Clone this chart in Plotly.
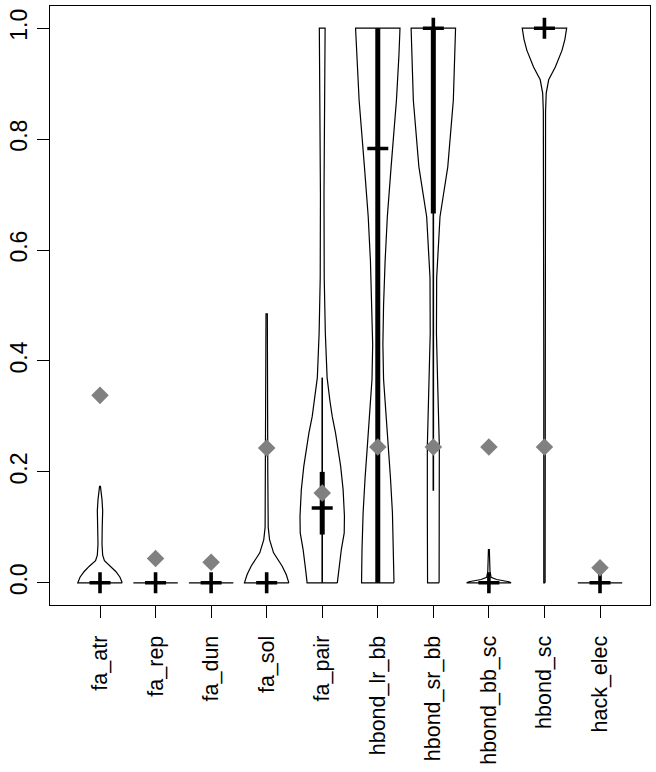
import plotly.graph_objects as go

categories = ["fa_atr", "fa_rep", "fa_dun", "fa_sol", "fa_pair",
              "hbond_lr_bb", "hbond_sr_bb", "hbond_bb_sc", "hbond_sc", "hack_elec"]

medians = [0.0, 0.0, 0.0, 0.0, 0.135, 0.783, 1.0, 0.0, 1.0, 0.0]
q1 = [0.0, 0.0, 0.0, 0.0, 0.087, 0.0, 0.666, 0.0, 1.0, 0.0]
q3 = [0.0, 0.0, 0.0, 0.0, 0.200, 1.0, 1.0, 0.0, 1.0, 0.0]
whisker_lo = [0.0, 0.0, 0.0, 0.0, 0.0, 0.0, 0.166, 0.0, 1.0, 0.0]
whisker_hi = [0.0, 0.0, 0.0, 0.0, 0.37, 1.0, 1.0, 0.0, 1.0, 0.0]
means = [0.338, 0.044, 0.037, 0.243, 0.162, 0.245, 0.245, 0.245, 0.245, 0.027]

# density profiles (value levels and relative half-widths, 1 = widest)
profile_levels = [
    [0.0, 0.01, 0.02, 0.03, 0.04, 0.05, 0.07, 0.10, 0.13, 0.15, 0.165, 0.174],
    [0.0],
    [0.0],
    [0.0, 0.015, 0.03, 0.054, 0.078, 0.10, 0.20, 0.30, 0.40, 0.485],
    [0.0, 0.018, 0.06, 0.09, 0.12, 0.168, 0.21, 0.27, 0.30, 0.33, 0.37, 0.45, 0.55, 0.70, 0.85, 0.95, 1.0],
    [0.0, 0.06, 0.126, 0.19, 0.246, 0.30, 0.367, 0.43, 0.50, 0.58, 0.66, 0.75, 0.87, 0.95, 1.0],
    [0.0, 0.126, 0.246, 0.367, 0.45, 0.55, 0.66, 0.75, 0.87, 1.0],
    [0.0, 0.002, 0.006, 0.01, 0.02, 0.04, 0.06],
    [0.0, 0.4, 0.7, 0.85, 0.883, 0.907, 0.93, 0.96, 0.98, 1.0],
    [0.0],
]
profile_widths = [
    [1.0, 0.9, 0.72, 0.48, 0.2, 0.12, 0.09, 0.10, 0.12, 0.09, 0.05, 0.02],
    [1.0],
    [1.0],
    [1.0, 0.88, 0.70, 0.31, 0.13, 0.07, 0.05, 0.04, 0.035, 0.03],
    [0.68, 0.73, 0.86, 0.99, 1.0, 0.94, 0.83, 0.60, 0.45, 0.34, 0.22, 0.14, 0.09, 0.08, 0.10, 0.12, 0.13],
    [0.73, 0.71, 0.66, 0.57, 0.47, 0.36, 0.26, 0.23, 0.26, 0.33, 0.43, 0.60, 0.84, 0.95, 1.0],
    [0.26, 0.27, 0.27, 0.19, 0.14, 0.15, 0.30, 0.65, 0.90, 1.0],
    [1.0, 0.9, 0.35, 0.1, 0.05, 0.03, 0.02],
    [0.03, 0.03, 0.035, 0.05, 0.08, 0.19, 0.49, 0.79, 0.92, 1.0],
    [1.0],
]

FONT = "Liberation Sans, Arial, sans-serif"
HALF = 0.4

fig = go.Figure()
positions = list(range(1, len(categories) + 1))

for i, at in enumerate(positions):
    lv = profile_levels[i]
    wd = profile_widths[i]
    xs = [at + HALF * w for w in wd] + [at - HALF * w for w in reversed(wd)] + [at + HALF * wd[0]]
    ys = list(lv) + list(reversed(lv)) + [lv[0]]
    fig.add_trace(go.Scatter(x=xs, y=ys, mode="lines", fill="toself", fillcolor="white",
                             line=dict(color="black", width=1.2), hoverinfo="skip"))
    if whisker_hi[i] > whisker_lo[i]:
        fig.add_trace(go.Scatter(x=[at, at], y=[whisker_lo[i], whisker_hi[i]], mode="lines",
                                 line=dict(color="black", width=1.6), hoverinfo="skip"))
    if q3[i] > q1[i]:
        fig.add_trace(go.Scatter(x=[at, at], y=[q1[i], q3[i]], mode="lines",
                                 line=dict(color="black", width=5), hoverinfo="skip"))

fig.add_trace(go.Scatter(x=positions, y=medians, mode="markers",
                         marker=dict(symbol="cross-thin", size=15, color="black",
                                     line=dict(color="black", width=3.6)),
                         cliponaxis=False))
fig.add_trace(go.Scatter(x=positions, y=means, mode="markers",
                         marker=dict(symbol="diamond", size=13.5, color="#808080",
                                     line=dict(width=0)),
                         cliponaxis=False))

fig.update_layout(
    width=656, height=772,
    margin=dict(l=50, r=6, t=6, b=167, autoexpand=False),
    plot_bgcolor="white", paper_bgcolor="white",
    showlegend=False,
    font=dict(family=FONT, size=23, color="black"),
)
fig.update_xaxes(
    range=[0.1, 10.9], tickmode="array", tickvals=positions, ticktext=categories,
    tickangle=-90, ticks="outside", ticklen=12, tickwidth=1.2, tickcolor="black",
    showline=True, linecolor="black", linewidth=1.2, mirror=True,
    showgrid=False, zeroline=False, ticklabelstandoff=9, automargin=False,
    tickfont=dict(family=FONT, size=21.5),
)
fig.update_yaxes(
    range=[-0.04, 1.04], tickmode="array", tickvals=[0, 0.2, 0.4, 0.6, 0.8, 1.0],
    ticktext=["0.0", "0.2", "0.4", "0.6", "0.8", "1.0"],
    tickangle=-90, ticks="outside", ticklen=12, tickwidth=1.2, tickcolor="black",
    showline=True, linecolor="black", linewidth=1.2, mirror=True,
    showgrid=False, zeroline=False, automargin=False, ticklabelstandoff=1,
    tickfont=dict(family=FONT, size=23),
)

# remove the browser's default 8px page margin so the figure fills the window exactly
fig.write_html("out.html", config={"displayModeBar": False},
               post_script="document.body.style.margin='0';")
